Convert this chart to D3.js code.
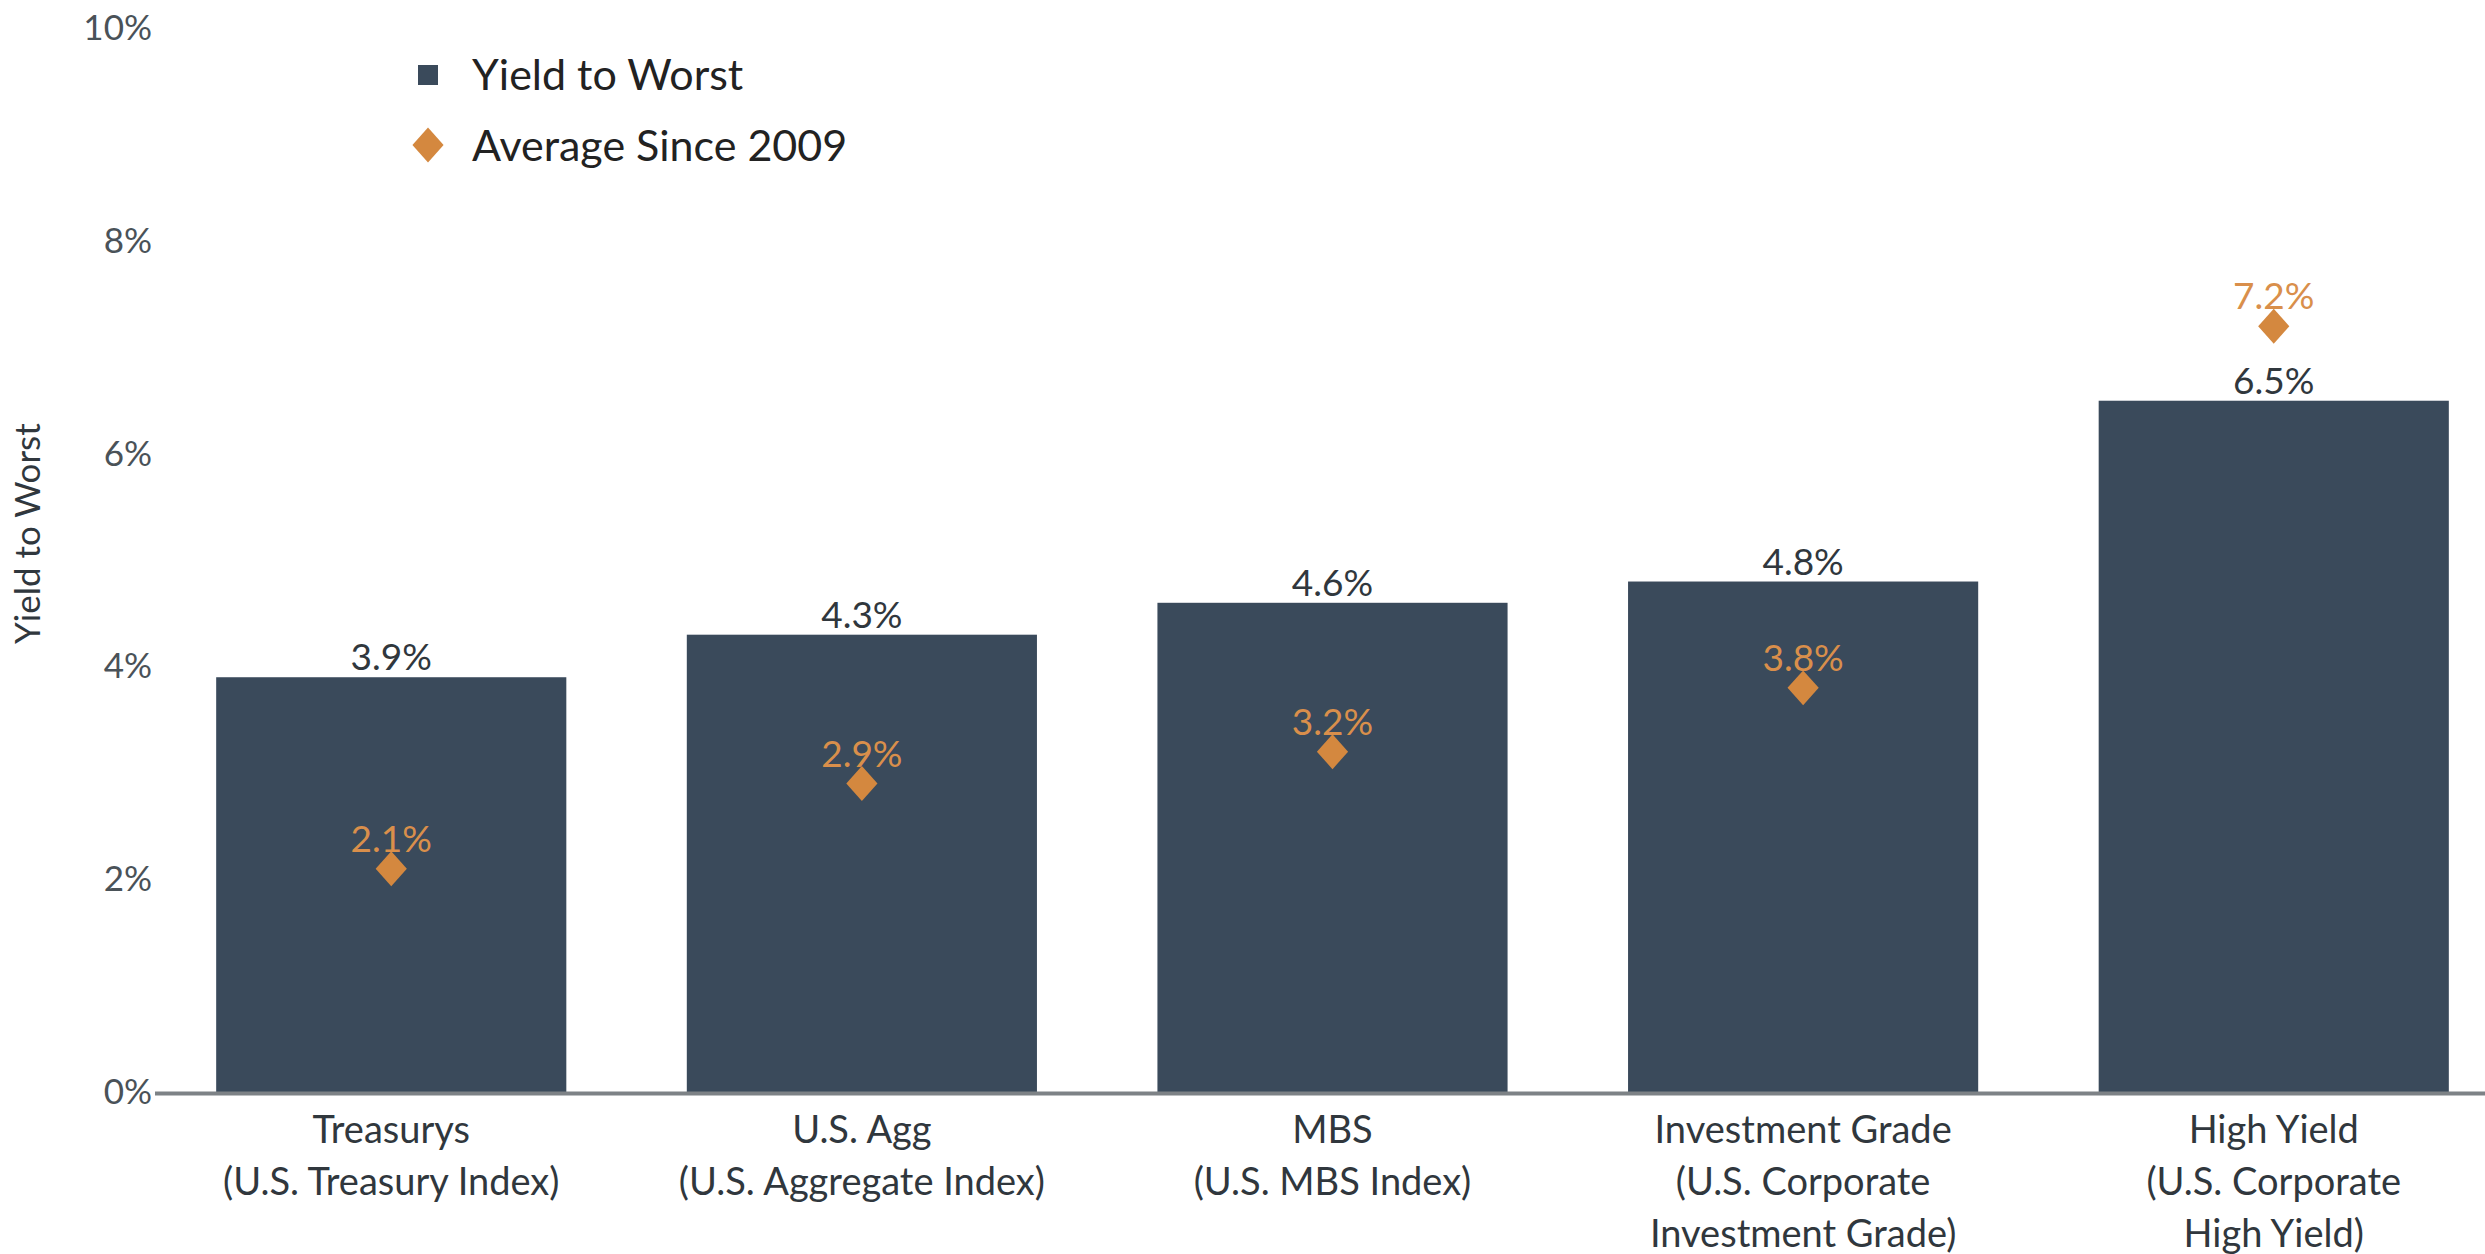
<!DOCTYPE html>
<html>
<head>
<meta charset="utf-8">
<script src="https://cdn.jsdelivr.net/npm/d3@7"></script>
<style>
  html, body { margin: 0; padding: 0; background: #fff; }
  svg { display: block; font-family: Lato, "Open Sans", sans-serif; }
</style>
</head>
<body>
<svg id="chart" width="2485" height="1254"></svg>
<script>
// Index categories (each label split into lines)
const categories = ["Treasurys", "U.S. Agg", "MBS", "Investment Grade", "High Yield"];
const categoryLabels = [
  ["Treasurys", "(U.S. Treasury Index)"],
  ["U.S. Agg", "(U.S. Aggregate Index)"],
  ["MBS", "(U.S. MBS Index)"],
  ["Investment Grade", "(U.S. Corporate", "Investment Grade)"],
  ["High Yield", "(U.S. Corporate", "High Yield)"]
];
// Current yield to worst (%)
const yieldToWorst = [3.9, 4.3, 4.6, 4.8, 6.5];
// Average yield since 2009 (%)
const averageSince2009 = [2.1, 2.9, 3.2, 3.8, 7.2];
// Y axis ticks (%)
const yTicks = [0, 2, 4, 6, 8, 10];

const barColor = "#3a4a5b";
const avgColor = "#d4883f";
const avgText = "#d98f4b";
const textColor = "#30373d";

const svg = d3.select("#chart");
const W = 2485, H = 1254;

const x = d3.scaleBand()
  .domain(categories)
  .range([155, 2510])
  .paddingInner(0.256)
  .paddingOuter(0.13);

const y = d3.scaleLinear().domain([0, 10]).range([1092, 28.5]);

// Y axis tick labels
const yAxis = svg.append("g")
  .attr("transform", "translate(155,0)")
  .call(d3.axisLeft(y).tickValues(yTicks).tickFormat(d => d + "%").tickSize(0).tickPadding(3));
yAxis.select(".domain").remove();
yAxis.selectAll("text")
  .attr("font-size", 35)
  .attr("fill", "#4a5258")
  .attr("font-family", "Lato, sans-serif");

// Y axis title
svg.append("text")
  .attr("transform", `translate(40,${y(5.25)}) rotate(-90)`)
  .attr("text-anchor", "middle")
  .attr("font-size", 35)
  .attr("fill", textColor)
  .text("Yield to Worst");

// Bars
svg.append("g").selectAll("rect")
  .data(categories)
  .join("rect")
  .attr("x", d => x(d))
  .attr("y", (d, i) => y(yieldToWorst[i]))
  .attr("width", x.bandwidth())
  .attr("height", (d, i) => y(0) - y(yieldToWorst[i]))
  .attr("fill", barColor);

// Baseline
svg.append("line")
  .attr("x1", 155).attr("x2", W)
  .attr("y1", y(0) + 1.5).attr("y2", y(0) + 1.5)
  .attr("stroke", "#7d8286")
  .attr("stroke-width", 4);

// Bar value labels
svg.append("g").selectAll("text")
  .data(categories)
  .join("text")
  .attr("x", d => x(d) + x.bandwidth() / 2)
  .attr("y", (d, i) => y(yieldToWorst[i]) - 7)
  .attr("text-anchor", "middle")
  .attr("font-size", 37)
  .attr("fill", textColor)
  .text((d, i) => yieldToWorst[i].toFixed(1) + "%");

// Average diamonds
const diamond = d3.symbol().type(d3.symbolDiamond2).size(620);
svg.append("g").selectAll("path")
  .data(categories)
  .join("path")
  .attr("transform", (d, i) => `translate(${x(d) + x.bandwidth() / 2},${y(averageSince2009[i])}) scale(1,1.12)`)
  .attr("d", diamond)
  .attr("fill", avgColor);

// Average labels
svg.append("g").selectAll("text")
  .data(categories)
  .join("text")
  .attr("x", d => x(d) + x.bandwidth() / 2)
  .attr("y", (d, i) => y(averageSince2009[i]) - 17)
  .attr("text-anchor", "middle")
  .attr("font-size", 37)
  .attr("fill", avgText)
  .text((d, i) => averageSince2009[i].toFixed(1) + "%");

// Category labels
const xl = svg.append("g").selectAll("text")
  .data(categories)
  .join("text")
  .attr("text-anchor", "middle")
  .attr("font-size", 38)
  .attr("fill", textColor);
xl.each(function(d, i) {
  const t = d3.select(this);
  categoryLabels[i].forEach((line, j) => {
    t.append("tspan")
      .attr("x", x(d) + x.bandwidth() / 2)
      .attr("y", 1143 + j * 52)
      .text(line);
  });
});

// Legend
const legend = svg.append("g").attr("transform", "translate(428,0)");
legend.append("rect")
  .attr("x", -10).attr("y", 65)
  .attr("width", 20).attr("height", 20)
  .attr("fill", barColor);
legend.append("text")
  .attr("x", 44).attr("y", 90)
  .attr("font-size", 43)
  .attr("fill", "#222")
  .text("Yield to Worst");
legend.append("path")
  .attr("transform", "translate(0,145) scale(1,1.12)")
  .attr("d", diamond)
  .attr("fill", avgColor);
legend.append("text")
  .attr("x", 44).attr("y", 161)
  .attr("font-size", 43)
  .attr("fill", "#222")
  .text("Average Since 2009");
</script>
</body>
</html>
